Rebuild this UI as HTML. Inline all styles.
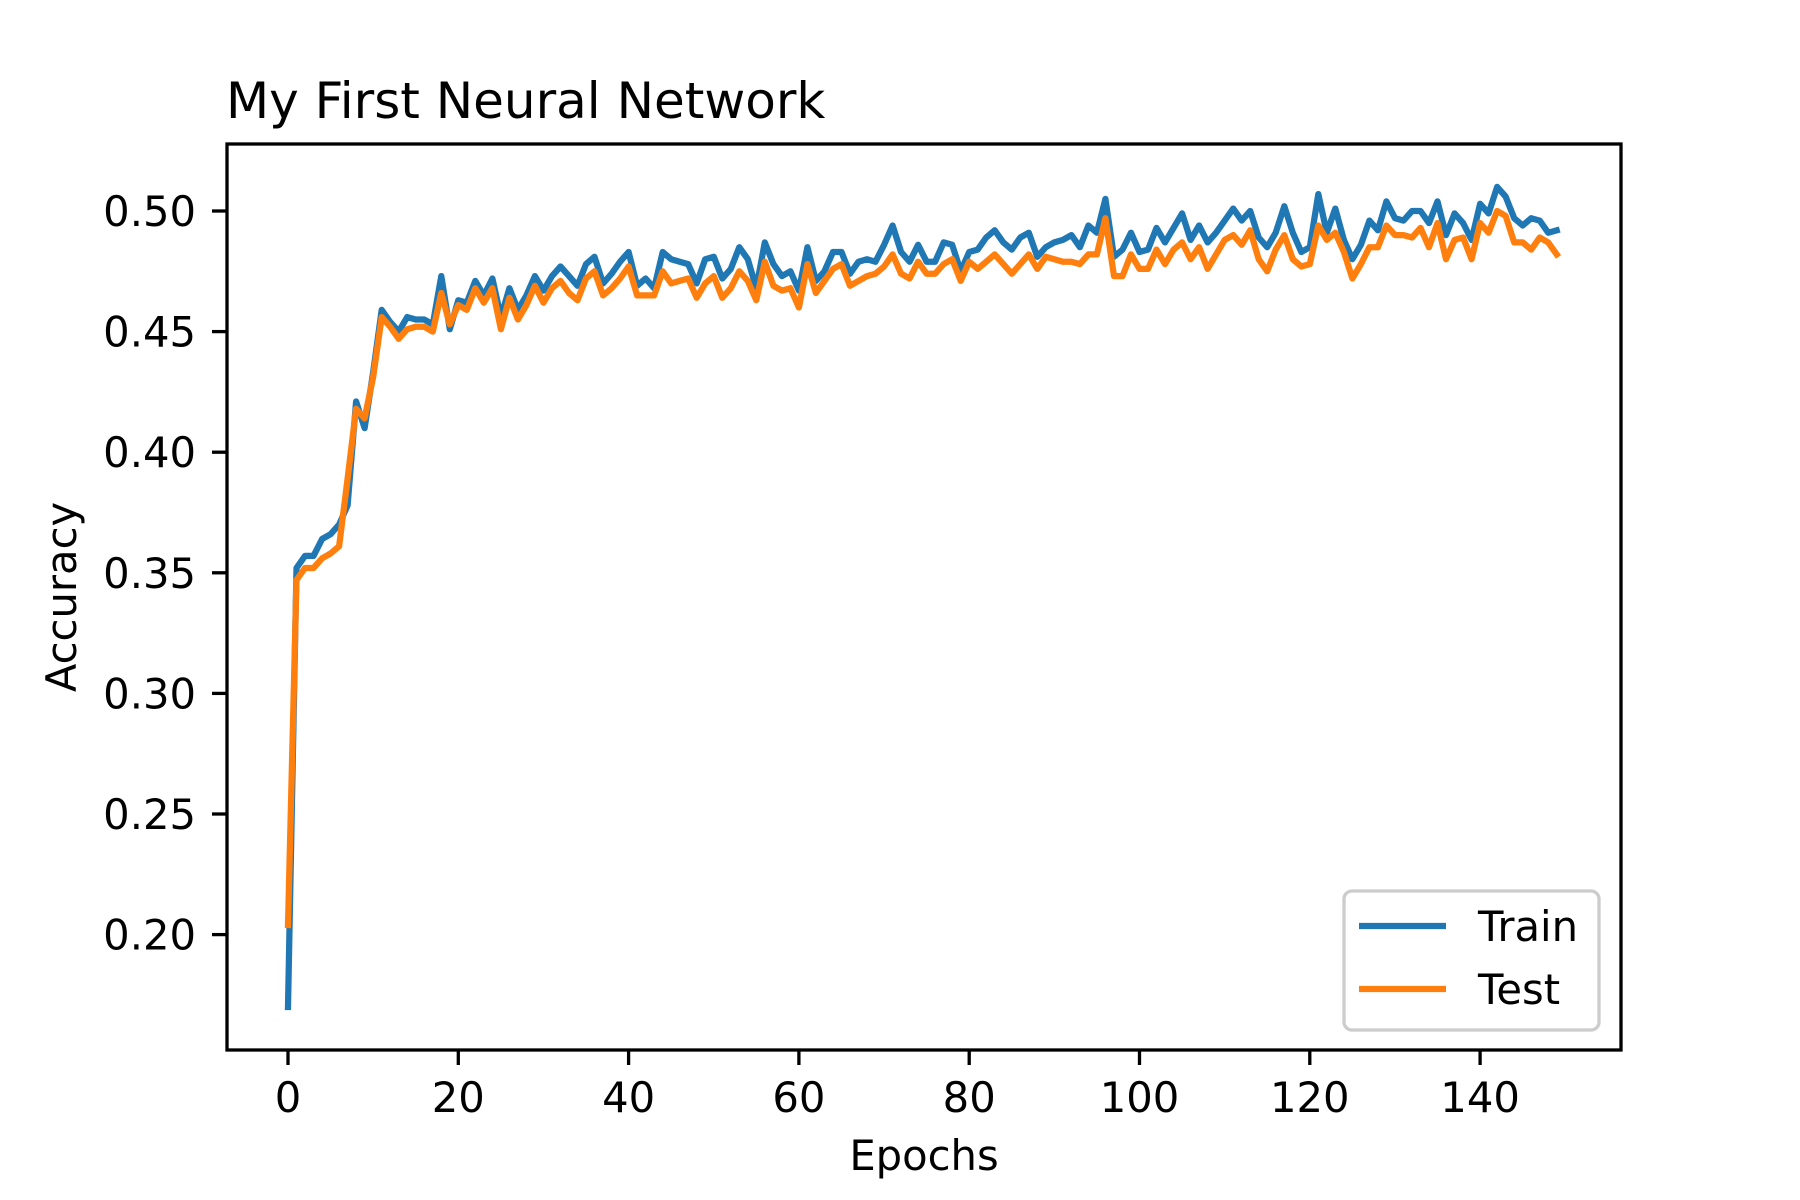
<!DOCTYPE html>
<html><head><meta charset="utf-8"><style>
html,body{margin:0;padding:0;background:#fff}
svg{display:block}
text{font-family:"DejaVu Sans","Liberation Sans",sans-serif;fill:#000}
</style></head><body>
<svg id="chart" width="1800" height="1200" viewBox="0 0 1800 1200">
<text x="226" y="118" font-size="50">My First Neural Network</text>
<g id="plot"></g>
<g id="xaxis"></g>
<g id="yaxis"></g>
<rect x="227" y="144" width="1394" height="906" fill="none" stroke="#000" stroke-width="3.3"/>
<text x="924" y="1170" font-size="41.7" text-anchor="middle">Epochs</text>
<text x="0" y="0" font-size="41.7" text-anchor="middle" transform="translate(76,597) rotate(-90)">Accuracy</text>
<g>
<rect x="1344" y="891" width="255" height="139" rx="8" fill="#fff" fill-opacity="0.8" stroke="#ccc" stroke-width="3.3"/>
<line x1="1359" y1="926" x2="1446" y2="926" stroke="#1f77b4" stroke-width="6.25"/>
<text x="1478" y="941" font-size="41.7">Train</text>
<line x1="1359" y1="989" x2="1446" y2="989" stroke="#ff7f0e" stroke-width="6.25"/>
<text x="1478" y="1004" font-size="41.7">Test</text>
</g>
</svg>
<script>
const trainAcc=[0.17,0.352,0.357,0.357,0.364,0.366,0.370,0.378,0.421,0.410,0.433,0.459,0.454,0.450,0.456,0.455,0.455,0.453,0.473,0.451,0.463,0.462,0.471,0.465,0.472,0.456,0.468,0.459,0.465,0.473,0.467,0.473,0.477,0.473,0.469,0.478,0.481,0.470,0.474,0.479,0.483,0.469,0.472,0.468,0.483,0.480,0.479,0.478,0.470,0.480,0.481,0.472,0.476,0.485,0.480,0.468,0.487,0.478,0.473,0.475,0.467,0.485,0.471,0.475,0.483,0.483,0.474,0.479,0.480,0.479,0.486,0.494,0.483,0.479,0.486,0.479,0.479,0.487,0.486,0.475,0.483,0.484,0.489,0.492,0.487,0.484,0.489,0.491,0.481,0.485,0.487,0.488,0.490,0.485,0.494,0.491,0.505,0.481,0.484,0.491,0.483,0.484,0.493,0.487,0.493,0.499,0.488,0.494,0.487,0.491,0.496,0.501,0.496,0.500,0.489,0.485,0.491,0.502,0.491,0.483,0.485,0.507,0.491,0.501,0.488,0.480,0.486,0.496,0.492,0.504,0.497,0.496,0.500,0.500,0.495,0.504,0.490,0.499,0.495,0.488,0.503,0.499,0.510,0.506,0.497,0.494,0.497,0.496,0.491,0.492];
const testAcc=[0.204,0.347,0.352,0.352,0.356,0.358,0.361,0.389,0.418,0.414,0.431,0.456,0.452,0.447,0.451,0.452,0.452,0.450,0.466,0.453,0.461,0.459,0.468,0.462,0.468,0.451,0.464,0.455,0.461,0.469,0.462,0.468,0.471,0.466,0.463,0.472,0.475,0.465,0.468,0.472,0.477,0.465,0.465,0.465,0.475,0.470,0.471,0.472,0.464,0.470,0.473,0.464,0.468,0.475,0.471,0.463,0.479,0.469,0.467,0.468,0.460,0.478,0.466,0.471,0.476,0.478,0.469,0.471,0.473,0.474,0.477,0.482,0.474,0.472,0.479,0.474,0.474,0.478,0.480,0.471,0.479,0.476,0.479,0.482,0.478,0.474,0.478,0.482,0.476,0.481,0.480,0.479,0.479,0.478,0.482,0.482,0.497,0.473,0.473,0.482,0.476,0.476,0.484,0.478,0.484,0.487,0.480,0.485,0.476,0.482,0.488,0.490,0.486,0.492,0.480,0.475,0.484,0.490,0.480,0.477,0.478,0.494,0.488,0.491,0.483,0.472,0.478,0.485,0.485,0.494,0.490,0.490,0.489,0.493,0.485,0.495,0.480,0.488,0.489,0.480,0.495,0.491,0.500,0.498,0.487,0.487,0.484,0.489,0.487,0.482];
const xTicks=[0,20,40,60,80,100,120,140];
const yTicks=[0.20,0.25,0.30,0.35,0.40,0.45,0.50];
const yTickLabels=["0.20","0.25","0.30","0.35","0.40","0.45","0.50"];
const NS='http://www.w3.org/2000/svg';
function xs(i){return 288+i*8.515;}
function ys(v){return 211+(0.5-v)/0.05*120.6;}
function mk(tag,attrs,parent){const e=document.createElementNS(NS,tag);for(const k in attrs)e.setAttribute(k,attrs[k]);parent.appendChild(e);return e;}
const plot=document.getElementById('plot'),xa=document.getElementById('xaxis'),ya=document.getElementById('yaxis');
function series(arr,color,name){
  const p=mk('polyline',{points:arr.map((v,i)=>xs(i).toFixed(1)+','+ys(v).toFixed(1)).join(' '),fill:'none',stroke:color,'stroke-width':6.25,'stroke-linejoin':'round','stroke-linecap':'square'},plot);
  
  
}
series(trainAcc,'#1f77b4','train-line');
series(testAcc,'#ff7f0e','test-line');
xTicks.forEach(t=>{
  const l=mk('line',{x1:xs(t),x2:xs(t),y1:1050,y2:1065,stroke:'#000','stroke-width':3.3},xa);
  
  
  const tx=mk('text',{x:xs(t),y:1112,'font-size':41.7,'text-anchor':'middle'},xa);
  tx.textContent=String(t);
  
  
});
yTicks.forEach((t,k)=>{
  const l=mk('line',{x1:212,x2:227,y1:ys(t),y2:ys(t),stroke:'#000','stroke-width':3.3},ya);
  
  
  const tx=mk('text',{x:196,y:ys(t)+15,'font-size':41.7,'text-anchor':'end'},ya);
  tx.textContent=yTickLabels[k];
  
  
});
</script>
</body></html>
